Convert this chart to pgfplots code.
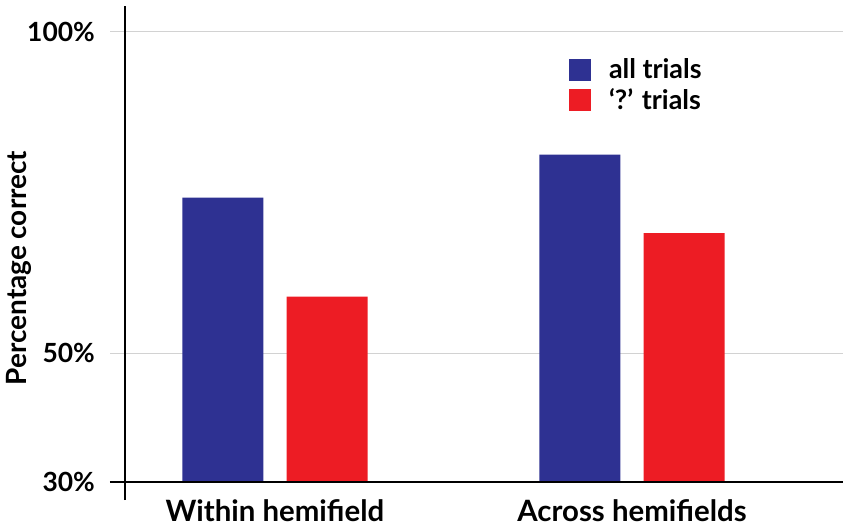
\documentclass[border=0pt]{standalone}
\usepackage{fontspec}
\setmainfont{Lato}
\usepackage{pgfplots}
\pgfplotsset{compat=1.18}
\definecolor{barblue}{RGB}{46,49,146}
\definecolor{barred}{RGB}{237,28,36}
\definecolor{gridgray}{RGB}{210,210,210}
\begin{document}
\begin{tikzpicture}
\useasboundingbox (-125bp,-46bp) rectangle (725bp,482bp);
\begin{axis}[
  at={(0,0)}, anchor=south west,
  scale only axis, width=718bp, height=476bp,
  xmin=-0.42, xmax=1.591, ymin=30, ymax=104,
  clip=false,
  axis line style={draw=none},
  ybar, bar width=0.227,
  xtick={0,1}, xticklabels={Within hemifield, Across hemifields},
  ytick={30,50,100}, yticklabels={30\%,50\%,100\%},
  major tick length=0pt,
  ymajorgrids, grid style={gridgray, line width=1.3bp},
  xticklabel style={font=\fontsize{29.5}{31}\selectfont\bfseries, anchor=base, inner sep=0pt, yshift=-39bp},
  yticklabel style={font=\fontsize{26.5}{28}\selectfont\bfseries, anchor=east, inner sep=0pt, xshift=-30bp},
  ylabel={Percentage correct},
  every axis y label/.style={at={(axis description cs:-0.1476,0.4496)}, rotate=90, anchor=center, font=\fontsize{28}{30}\selectfont\bfseries},
  legend style={draw=none, fill=none, inner sep=0pt, outer sep=0pt,
    at={(axis description cs:0.6184,0.8929)}, anchor=north west,
    font=\fontsize{27}{29}\selectfont\bfseries, row sep=4bp,
    cells={anchor=west}},
]
\addplot[fill=barblue, draw=none, bar shift=-0.146,
  legend image code/.code={\fill[barblue] (0bp,-11bp) rectangle (22bp,11bp);}]
  coordinates {(0,74.2) (1,80.9)};
\addlegendentry{\hspace{16bp}all trials}
\addplot[fill=barred, draw=none, bar shift=0.146,
  legend image code/.code={\fill[barred] (0bp,-11bp) rectangle (22bp,11bp);}]
  coordinates {(0,58.8) (1,68.7)};
\addlegendentry{\hspace{16bp}‘?’ trials}
\coordinate (g50) at (axis cs:-0.42,50);
\coordinate (g100) at (axis cs:-0.42,100);
\coordinate (o) at (axis cs:-0.42,30);
\coordinate (r) at (axis cs:1.591,30);
\coordinate (t) at (axis cs:-0.42,104);
\end{axis}
\draw[gridgray, line width=1.3bp] (g50) -- ++(-15bp,0);
\draw[gridgray, line width=1.3bp] (g100) -- ++(-15bp,0);
\draw[black, line width=2bp] ([xshift=-15bp]o) -- (r);
\draw[black, line width=2bp] ([yshift=-18bp]o) -- (t);
\end{tikzpicture}
\end{document}
